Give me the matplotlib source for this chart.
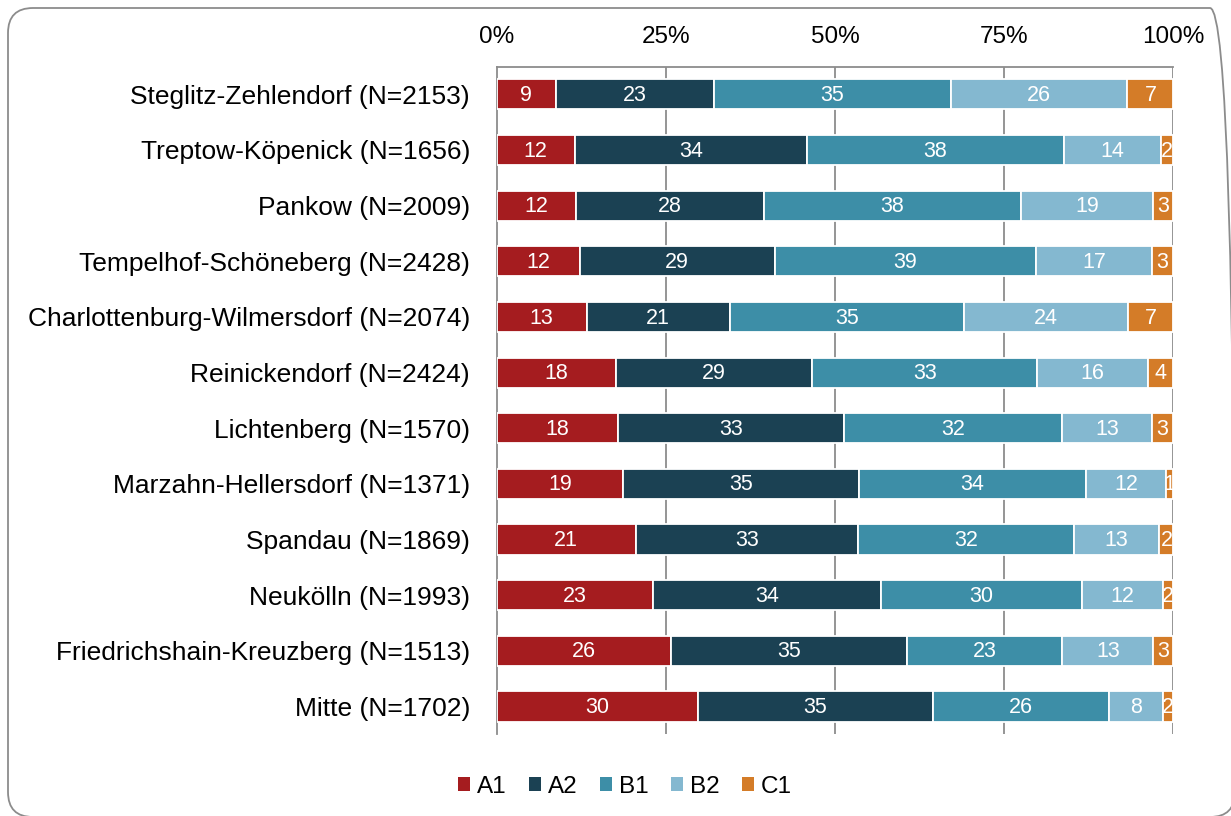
import matplotlib
matplotlib.use("Agg")
import matplotlib.pyplot as plt
from matplotlib.patches import FancyBboxPatch, Patch
from matplotlib.transforms import IdentityTransform
import numpy as np

plt.rcParams['font.family'] = ['Liberation Sans', 'DejaVu Sans']

districts = [
    "Steglitz-Zehlendorf (N=2153)",
    "Treptow-Köpenick (N=1656)",
    "Pankow (N=2009)",
    "Tempelhof-Schöneberg (N=2428)",
    "Charlottenburg-Wilmersdorf (N=2074)",
    "Reinickendorf (N=2424)",
    "Lichtenberg (N=1570)",
    "Marzahn-Hellersdorf (N=1371)",
    "Spandau (N=1869)",
    "Neukölln (N=1993)",
    "Friedrichshain-Kreuzberg (N=1513)",
    "Mitte (N=1702)",
]
levels = ["A1", "A2", "B1", "B2", "C1"]

A1 = [8.8, 11.6, 11.7, 12.3, 13.3, 17.7, 17.9, 18.7, 20.6, 23.1, 25.8, 29.7]
A2 = [23.3, 34.2, 27.8, 28.8, 21.2, 28.9, 33.4, 34.8, 32.8, 33.7, 34.8, 34.8]
B1 = [35.0, 38.0, 38.0, 38.6, 34.6, 33.3, 32.3, 33.6, 31.9, 29.7, 23.0, 26.0]
B2 = [26.1, 14.3, 19.4, 17.1, 24.2, 16.3, 13.2, 11.8, 12.6, 11.9, 13.4, 7.9]
C1 = [6.8, 1.9, 3.1, 3.2, 6.7, 3.8, 3.2, 1.1, 2.1, 1.6, 3.0, 1.6]

colors = ["#A51C1F", "#1B4153", "#3D8EA7", "#84B8D0", "#D47C28"]
xticks = [0, 25, 50, 75, 100]
xticklabels = ["0%", "25%", "50%", "75%", "100%"]

W, H = 1231, 816
fig = plt.figure(figsize=(W / 100, H / 100), dpi=100)
ax = fig.add_axes([496.5 / W, 1 - 734.3 / H, 677 / W, (734.3 - 66.5) / H])

series = [A1, A2, B1, B2, C1]
y = np.arange(len(districts))
left = np.zeros(len(districts))
for vals, col, name in zip(series, colors, levels):
    vals = np.array(vals)
    ax.barh(y, vals, left=left, height=0.54, color=col,
            edgecolor="white", linewidth=1.3, label=name, zorder=3)
    for yi, l, v in zip(y, left, vals):
        ax.text(l + v / 2, yi + 0.02, f"{int(round(v))}", ha="center", va="center",
                color="white", fontsize=15.5, zorder=4)
    left += vals

ax.set_xlim(0, 100)
ax.set_ylim(len(districts) - 0.5, -0.5)
ax.set_yticks(y)
ax.set_yticklabels(districts, fontsize=19)
ax.set_xticks(xticks)
ax.set_xticklabels(xticklabels, fontsize=17.5)
ax.xaxis.tick_top()
ax.tick_params(axis="both", length=0)
ax.tick_params(axis="y", pad=19)
ax.tick_params(axis="x", pad=13)
for x in xticks[1:]:
    ax.axvline(x, color="#8C8C8C", lw=1.3, zorder=1)
for s in ["right", "bottom"]:
    ax.spines[s].set_visible(False)
for s in ["left", "top"]:
    ax.spines[s].set_color("#8C8C8C")
    ax.spines[s].set_linewidth(1.3)

handles = [Patch(facecolor=c, edgecolor="none") for c in colors]
fig.legend(handles, levels, loc="center", bbox_to_anchor=(625 / W, 1 - 787 / H),
           ncol=5, frameon=False, fontsize=17.5, handlelength=0.5, handleheight=0.5,
           handletextpad=0.3, columnspacing=0.9)

box = FancyBboxPatch((8, -1), 1227, 809, boxstyle="round,pad=0,rounding_size=25",
                     transform=IdentityTransform(), facecolor="none",
                     edgecolor="#8C8C8C", linewidth=1.3)
fig.patches.append(box)

fig.savefig("out.png", dpi=100)
